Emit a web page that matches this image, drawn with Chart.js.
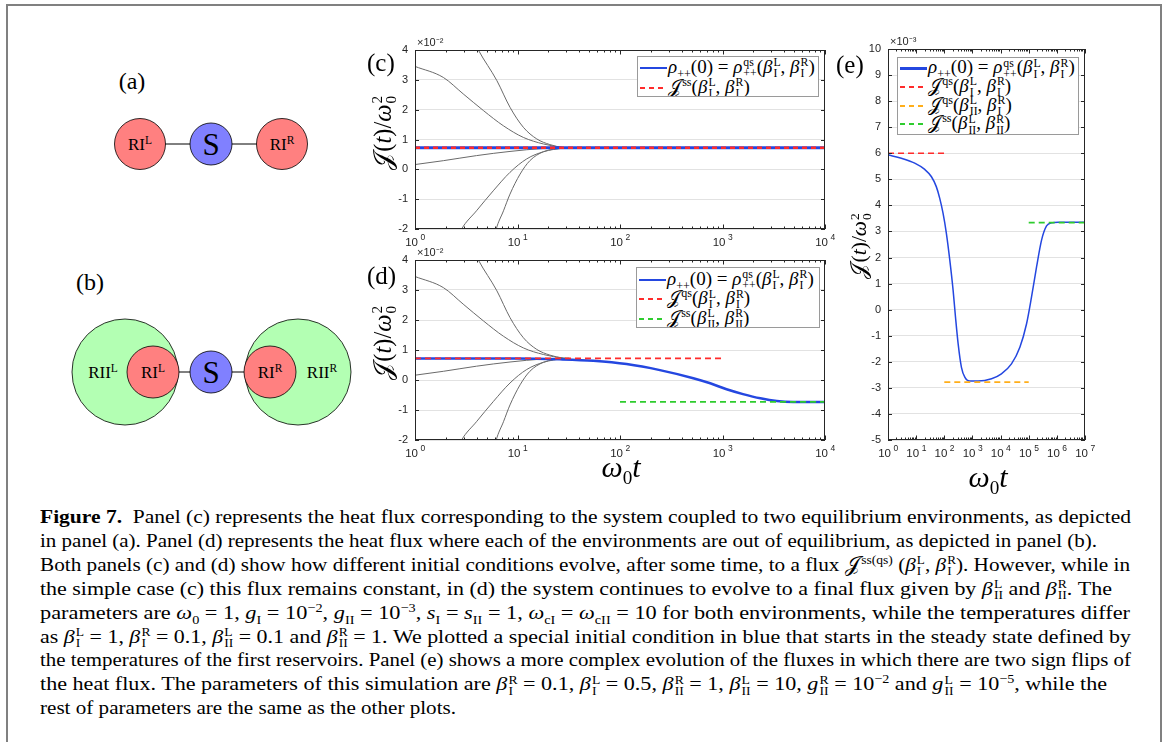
<!DOCTYPE html>
<html>
<head>
<meta charset="utf-8">
<script src="https://cdn.jsdelivr.net/npm/chart.js@4.4.1/dist/chart.umd.min.js"></script>
<style>
  body { margin: 0; background: #fff; font-family: "Liberation Serif", "DejaVu Serif", serif; color: #000; }
  #page { position: relative; width: 1165px; height: 742px; overflow: hidden; }
  #frame { position: absolute; left: 6px; top: 4px; width: 1156px; height: 780px; border: 2px solid #808080; box-sizing: border-box; }
  .abs { position: absolute; }
  canvas { position: absolute; }
  sup, sub { font-size: 0.64em; line-height: 0; font-style: normal; }
  .ss { display: inline-block; vertical-align: -0.36em; font-size: 0.62em; line-height: 0.92; font-style: normal; margin-left: 1px; }
  .ss > span { display: block; }
  .cal { font-style: normal; margin-right: 0.06em; }
  .ylab { position: absolute; font-size: 24.5px; white-space: nowrap; transform: translate(-50%, -50%) rotate(-90deg); }
  .xlab { position: absolute; font-size: 30px; white-space: nowrap; transform: translate(-50%, -50%); }
  .plab { position: absolute; font-size: 25px; line-height: 1; }
  .legend { position: absolute; background: #fff; border: 1px solid #9a9a9a; box-sizing: border-box; font-size: 19px; white-space: nowrap; overflow: hidden; }
  .legend .row { display: flex; align-items: center; }
  .legend .smp { width: 27px; height: 2px; margin: 0 1px 0 2px; flex: none; }
  .cl { position: absolute; left: 40px; white-space: nowrap; font-size: 19.5px; line-height: 24px; transform-origin: 0 50%; display: inline-block; }
</style>
</head>
<body>
<div id="page">
  <div id="frame"></div>

  <svg class="abs" style="left:0;top:0" width="360" height="480" font-family="Liberation Serif, serif">
    <text x="132" y="89" font-size="24" text-anchor="middle">(a)</text>
    <line x1="140" y1="144" x2="282" y2="144" stroke="#000" stroke-width="1"/>
    <circle cx="140" cy="144" r="25.5" fill="#ff8080" stroke="#000" stroke-width="0.8"/>
    <circle cx="211" cy="144" r="21" fill="#8080ff" stroke="#000" stroke-width="0.8"/>
    <circle cx="282" cy="144" r="25.5" fill="#ff8080" stroke="#000" stroke-width="0.8"/>
    <text x="140" y="150" font-size="17" text-anchor="middle">RI<tspan font-size="11.5" dy="-6">L</tspan></text>
    <text x="211" y="155" font-size="31" text-anchor="middle">S</text>
    <text x="282" y="150" font-size="17" text-anchor="middle">RI<tspan font-size="11.5" dy="-6">R</tspan></text>

    <text x="90" y="290" font-size="24" text-anchor="middle">(b)</text>
    <circle cx="125" cy="372" r="53" fill="#b3ffb3" stroke="#000" stroke-width="0.8"/>
    <circle cx="298" cy="372" r="53" fill="#b3ffb3" stroke="#000" stroke-width="0.8"/>
    <line x1="153" y1="372" x2="270" y2="372" stroke="#000" stroke-width="1"/>
    <circle cx="153" cy="372" r="26" fill="#ff8080" stroke="#000" stroke-width="0.8"/>
    <circle cx="211" cy="372" r="21" fill="#8080ff" stroke="#000" stroke-width="0.8"/>
    <circle cx="270" cy="372" r="26" fill="#ff8080" stroke="#000" stroke-width="0.8"/>
    <text x="103" y="378" font-size="17" text-anchor="middle">RII<tspan font-size="11.5" dy="-6">L</tspan></text>
    <text x="153" y="378" font-size="17" text-anchor="middle">RI<tspan font-size="11.5" dy="-6">L</tspan></text>
    <text x="211" y="383" font-size="31" text-anchor="middle">S</text>
    <text x="270" y="378" font-size="17" text-anchor="middle">RI<tspan font-size="11.5" dy="-6">R</tspan></text>
    <text x="322" y="378" font-size="17" text-anchor="middle">RII<tspan font-size="11.5" dy="-6">R</tspan></text>
  </svg>

  <canvas id="chartC" width="475" height="220" style="left:360px;top:36px"></canvas>
  <canvas id="chartD" width="475" height="221" style="left:360px;top:246px"></canvas>
  <canvas id="chartE" width="250" height="440" style="left:845px;top:35px"></canvas>

  <div class="plab" style="left:367px;top:50px">(c)</div>
  <div class="plab" style="left:367px;top:263px">(d)</div>
  <div class="plab" style="left:836px;top:52px">(e)</div>

  <div class="ylab" id="ylabC" style="left:384px;top:133px"></div>
  <div class="ylab" id="ylabD" style="left:384px;top:343px"></div>
  <div class="ylab" id="ylabE" style="left:860px;top:246px;font-size:21.5px"></div>
  <div class="xlab" id="xlabD" style="left:621px;top:467px"></div>
  <div class="xlab" id="xlabE" style="left:988px;top:477px"></div>

  <div class="legend" id="legC" style="left:637px;top:56px;width:182px;height:41px;padding-top:1px"></div>
  <div class="legend" id="legD" style="left:636px;top:267px;width:184px;height:61px;padding-top:2px"></div>
  <div class="legend" id="legE" style="left:897px;top:57px;width:182px;height:78px;padding-top:1px"></div>

  <div id="caption"></div>
</div>

<script>
// ---- data (flux in units shown on each axis: x10^-2 for c,d and x10^-3 for e) ----
// grey curves: other initial conditions, same in (c) and (d)
const ic1T = [2.5, 3.2, 4.15, 6.3, 8.45, 11.4, 15.4, 20.7, 28, 32];
const ic1J = [5.5, 4.8, 4.0, 2.97, 2.08, 1.41, 1.02, 0.83, 0.73, 0.72];
const ic2T = [1, 1.89, 2.95, 4.65, 7.28, 11.4, 17.9, 28, 32];
const ic2J = [3.45, 3.08, 2.53, 1.97, 1.46, 1.07, 0.85, 0.73, 0.72];
const ic3T = [1, 1.89, 3.98, 8.45, 17.9, 28, 32];
const ic3J = [0.16, 0.29, 0.46, 0.60, 0.70, 0.72, 0.72];
const ic4T = [2.3, 2.85, 3.98, 5.8, 8.45, 12.3, 17.9, 28, 32];
const ic4J = [-2.7, -2.0, -1.39, -0.72, -0.10, 0.35, 0.59, 0.71, 0.72];
const ic5T = [5.5, 6.2, 7.3, 8.45, 10.6, 13.2, 17.9, 28, 32];
const ic5J = [-2.8, -2.0, -1.39, -0.83, -0.16, 0.29, 0.59, 0.71, 0.72];

// panel (c)
const cBlueT = [1, 10000];
const cBlueJ = [0.72, 0.72];
const cRedT = [1, 10000];
const cRedJ = [0.72, 0.72];

// panel (d)
const dBlueT = [1, 10, 26, 55, 116, 245, 519, 759, 1096, 1585, 2344, 3388, 4898, 10000];
const dBlueJ = [0.72, 0.72, 0.69, 0.64, 0.53, 0.33, 0.06, -0.11, -0.31, -0.47, -0.61, -0.70, -0.73, -0.73];
const dRedT = [1, 1000];
const dRedJ = [0.72, 0.72];
const dGreenT = [100, 10000];
const dGreenJ = [-0.73, -0.73];

// panel (e)
const eBlueT = [1, 2.98, 8.9, 20.2, 35, 52, 69, 90.6, 119, 157, 206, 250, 311, 407, 536, 806, 1590, 4780, 10700, 24400, 48500, 83900, 126000, 190000, 286000, 430000, 648000, 1.1e6, 1e7];
const eBlueJ = [5.94, 5.81, 5.62, 5.38, 5.10, 4.72, 4.27, 3.69, 2.92, 1.90, 0.74, -0.28, -1.31, -2.21, -2.59, -2.74, -2.74, -2.65, -2.46, -2.08, -1.44, -0.54, 0.49, 1.64, 2.67, 3.21, 3.33, 3.35, 3.35];
const eRedT = [1, 100];
const eRedJ = [6.0, 6.0];
const eOrangeT = [100, 1e5];
const eOrangeJ = [-2.78, -2.78];
const eGreenT = [1e5, 1e7];
const eGreenJ = [3.34, 3.34];

// axes
const cdXTicks = [1, 10, 100, 1000, 10000];
const cdXExp = ['0', '1', '2', '3', '4'];
const eXTicks = [1, 10, 100, 1000, 1e4, 1e5, 1e6, 1e7];
const eXExp = ['0', '1', '2', '3', '4', '5', '6', '7'];
const cdYRange = [-2, 4];
const eYRange = [-5, 10];

// ---- math snippets ----
const B = (sup, sub) => `<i>β</i><span class="ss"><span>${sup}</span><span>${sub}</span></span>`;
const J = sup => `<span class="cal">𝒥</span><sup>${sup}</sup>`;
const RHO = `<i>ρ</i><sub>++</sub>(0) = <i>ρ</i><span class="ss"><span>qs</span><span>++</span></span>(${B('L', 'I')}, ${B('R', 'I')})`;
const YLAB = `<span class="cal">𝒥</span>(<i>t</i>)/<i>ω</i><span class="ss"><span>2</span><span>0</span></span>`;
const XLAB = `<i>ω</i><sub>0</sub><i>t</i>`;

const BLUE = '#2447e0', RED = '#ff2b2b', GREEN = '#2ecc2e', ORANGE = '#ffae1a', GREY = '#6a6a6a';

function pts(ts, js) { return ts.map((t, i) => ({ x: t, y: js[i] })); }

function greySets() {
  return [[ic1T, ic1J], [ic2T, ic2J], [ic3T, ic3J], [ic4T, ic4J], [ic5T, ic5J]].map(([t, j]) => ({
    data: pts(t, j), borderColor: GREY, borderWidth: 1, order: 2
  }));
}

const framePlugin = {
  id: 'frame',
  afterDraw(chart, args, o) {
    const { ctx, chartArea: a, scales: { x, y } } = chart;
    ctx.save();
    ctx.strokeStyle = '#262626';
    ctx.lineWidth = 1;
    ctx.strokeRect(Math.round(a.left) + 0.5, Math.round(a.top) + 0.5, Math.round(a.width) - 1, Math.round(a.height) - 1);
    ctx.beginPath();
    y.ticks.forEach(t => {
      const py = Math.round(y.getPixelForValue(t.value)) + 0.5;
      ctx.moveTo(a.left, py); ctx.lineTo(a.left + 4, py);
      ctx.moveTo(a.right, py); ctx.lineTo(a.right - 4, py);
    });
    const d1 = Math.round(Math.log10(x.max));
    for (let d = Math.round(Math.log10(x.min)); d <= d1; d++) {
      for (let k = 1; k < 10; k++) {
        if (d === d1 && k > 1) break;
        const px = Math.round(x.getPixelForValue(k * Math.pow(10, d))) + 0.5;
        const len = k === 1 ? 4.5 : 2.5;
        ctx.moveTo(px, a.bottom); ctx.lineTo(px, a.bottom - len);
        ctx.moveTo(px, a.top); ctx.lineTo(px, a.top + len);
      }
    }
    ctx.stroke();
    ctx.fillStyle = '#262626';
    ctx.font = '11px "Liberation Sans", Arial, sans-serif';
    ctx.fillText(o.exp, a.left + 2, a.top - 4);
    // x tick labels: "10" with a raised exponent, at the scale's tick positions
    x.ticks.forEach((t, i) => {
      const px = x.getPixelForValue(t.value);
      ctx.font = '11.5px "Liberation Sans", Arial, sans-serif';
      ctx.textAlign = 'right';
      ctx.fillText('10', px + 3, a.bottom + 17);
      ctx.font = '8.5px "Liberation Sans", Arial, sans-serif';
      ctx.textAlign = 'left';
      ctx.fillText(o.xExp[i], px + 5.5, a.bottom + 11);
    });
    ctx.restore();
  }
};

const tickFont = { family: '"Liberation Sans", Arial, sans-serif', size: 11 };

function makeChart(id, cfg) {
  return new Chart(document.getElementById(id), {
    type: 'line',
    data: { datasets: cfg.datasets },
    options: {
      responsive: false,
      animation: false,
      devicePixelRatio: 1,
      layout: { padding: cfg.padding },
      plugins: { legend: { display: false }, tooltip: { enabled: false }, frame: { exp: cfg.exp, xExp: cfg.xExp } },
      elements: { point: { radius: 0 }, line: { cubicInterpolationMode: 'monotone' } },
      scales: {
        x: {
          type: 'logarithmic',
          min: cfg.xTicks[0],
          max: cfg.xTicks[cfg.xTicks.length - 1],
          afterBuildTicks: s => { s.ticks = cfg.xTicks.map(v => ({ value: v })); },
          afterFit: s => { s.height = 20; },
          grid: { display: false },
          border: { display: false },
          ticks: { display: false }
        },
        y: {
          type: 'linear',
          min: cfg.yRange[0],
          max: cfg.yRange[1],
          afterFit: s => { s.width = cfg.yWidth; },
          grid: { color: '#e2e2e2', drawTicks: false },
          border: { display: false },
          ticks: { stepSize: 1, padding: 7, color: '#262626', font: tickFont }
        }
      }
    },
    plugins: [framePlugin]
  });
}

const chartC = makeChart('chartC', {
  padding: { left: 15, top: 14, right: 10, bottom: 7 }, yWidth: 40, exp: '×10⁻²',
  xTicks: cdXTicks, xExp: cdXExp, yRange: cdYRange,
  datasets: [
    { label: RHO, data: pts(cBlueT, cBlueJ), borderColor: BLUE, borderWidth: 3, order: 1 },
    { label: J('ss') + `(${B('L', 'I')}, ${B('R', 'I')})`, data: pts(cRedT, cRedJ), borderColor: RED, borderWidth: 2.5, borderDash: [5, 4], order: 0 },
    ...greySets()
  ]
});

const chartD = makeChart('chartD', {
  padding: { left: 15, top: 14, right: 10, bottom: 7 }, yWidth: 40, exp: '×10⁻²',
  xTicks: cdXTicks, xExp: cdXExp, yRange: cdYRange,
  datasets: [
    { label: RHO, data: pts(dBlueT, dBlueJ), borderColor: BLUE, borderWidth: 2.5, order: 1 },
    { label: J('qs') + `(${B('L', 'I')}, ${B('R', 'I')})`, data: pts(dRedT, dRedJ), borderColor: RED, borderWidth: 1.8, borderDash: [6, 4], order: 0 },
    { label: J('ss') + `(${B('L', 'II')}, ${B('R', 'II')})`, data: pts(dGreenT, dGreenJ), borderColor: GREEN, borderWidth: 1.8, borderDash: [6, 4], order: 0 },
    ...greySets()
  ]
});

const chartE = makeChart('chartE', {
  padding: { left: 8, top: 14, right: 10, bottom: 15 }, yWidth: 35, exp: '×10⁻³',
  xTicks: eXTicks, xExp: eXExp, yRange: eYRange,
  datasets: [
    { label: RHO, data: pts(eBlueT, eBlueJ), borderColor: BLUE, borderWidth: 1.5, order: 1 },
    { label: J('qs') + `(${B('L', 'I')}, ${B('R', 'I')})`, data: pts(eRedT, eRedJ), borderColor: RED, borderWidth: 1.6, borderDash: [6, 4], order: 0 },
    { label: J('qs') + `(${B('L', 'II')}, ${B('R', 'I')})`, data: pts(eOrangeT, eOrangeJ), borderColor: ORANGE, borderWidth: 1.6, borderDash: [6, 4], order: 0 },
    { label: J('ss') + `(${B('L', 'II')}, ${B('R', 'II')})`, data: pts(eGreenT, eGreenJ), borderColor: GREEN, borderWidth: 1.6, borderDash: [6, 4], order: 0 }
  ]
});

// HTML legends built from the labelled datasets
function buildLegend(chart, id, rowH) {
  const box = document.getElementById(id);
  chart.data.datasets.filter(ds => ds.label).forEach(ds => {
    const row = document.createElement('div');
    row.className = 'row';
    row.style.height = rowH + 'px';
    const smp = document.createElement('div');
    smp.className = 'smp';
    if (ds.borderDash) {
      smp.style.background = `repeating-linear-gradient(90deg, ${ds.borderColor} 0 5px, transparent 5px 9px)`;
    } else {
      smp.style.background = ds.borderColor;
      smp.style.height = '2.5px';
    }
    const txt = document.createElement('span');
    txt.innerHTML = ds.label;
    row.appendChild(smp);
    row.appendChild(txt);
    box.appendChild(row);
  });
}
buildLegend(chartC, 'legC', 20);
buildLegend(chartD, 'legD', 19.5);
buildLegend(chartE, 'legE', 18.7);

['ylabC', 'ylabD', 'ylabE'].forEach(id => { document.getElementById(id).innerHTML = YLAB; });
['xlabD', 'xlabE'].forEach(id => { document.getElementById(id).innerHTML = XLAB; });

// caption
const captionLines = [
  `<b>Figure 7.</b>&nbsp; Panel (c) represents the heat flux corresponding to the system coupled to two equilibrium environments, as depicted`,
  `in panel (a). Panel (d) represents the heat flux where each of the environments are out of equilibrium, as depicted in panel (b).`,
  `Both panels (c) and (d) show how different initial conditions evolve, after some time, to a flux ${J('ss(qs)')} (${B('L', 'I')}, ${B('R', 'I')}). However, while in`,
  `the simple case (c) this flux remains constant, in (d) the system continues to evolve to a final flux given by ${B('L', 'II')} and ${B('R', 'II')}. The`,
  `parameters are <i>ω</i><sub>0</sub> = 1, <i>g</i><sub>I</sub> = 10<sup>−2</sup>, <i>g</i><sub>II</sub> = 10<sup>−3</sup>, <i>s</i><sub>I</sub> = <i>s</i><sub>II</sub> = 1, <i>ω</i><sub>cI</sub> = <i>ω</i><sub>cII</sub> = 10 for both environments, while the temperatures differ`,
  `as ${B('L', 'I')} = 1, ${B('R', 'I')} = 0.1, ${B('L', 'II')} = 0.1 and ${B('R', 'II')} = 1. We plotted a special initial condition in blue that starts in the steady state defined by`,
  `the temperatures of the first reservoirs. Panel (e) shows a more complex evolution of the fluxes in which there are two sign flips of`,
  `the heat flux. The parameters of this simulation are ${B('R', 'I')} = 0.1, ${B('L', 'I')} = 0.5, ${B('R', 'II')} = 1, ${B('L', 'II')} = 10, <i>g</i><span class="ss"><span>R</span><span>II</span></span> = 10<sup>−2</sup> and <i>g</i><span class="ss"><span>L</span><span>II</span></span> = 10<sup>−5</sup>, while the`,
  `rest of parameters are the same as the other plots.`
];
const captionRight = [1131, 1097, 1130, 1112, 1130, 1131, 1131, 1107, 456];
const cap = document.getElementById('caption');
captionLines.forEach((html, i) => {
  const d = document.createElement('div');
  d.className = 'cl';
  d.style.top = (505 + 23.9 * i) + 'px';
  d.innerHTML = html;
  cap.appendChild(d);
  const w = d.getBoundingClientRect().width;
  d.style.transform = `scaleX(${(captionRight[i] - 40) / w})`;
});
</script>
</body>
</html>
